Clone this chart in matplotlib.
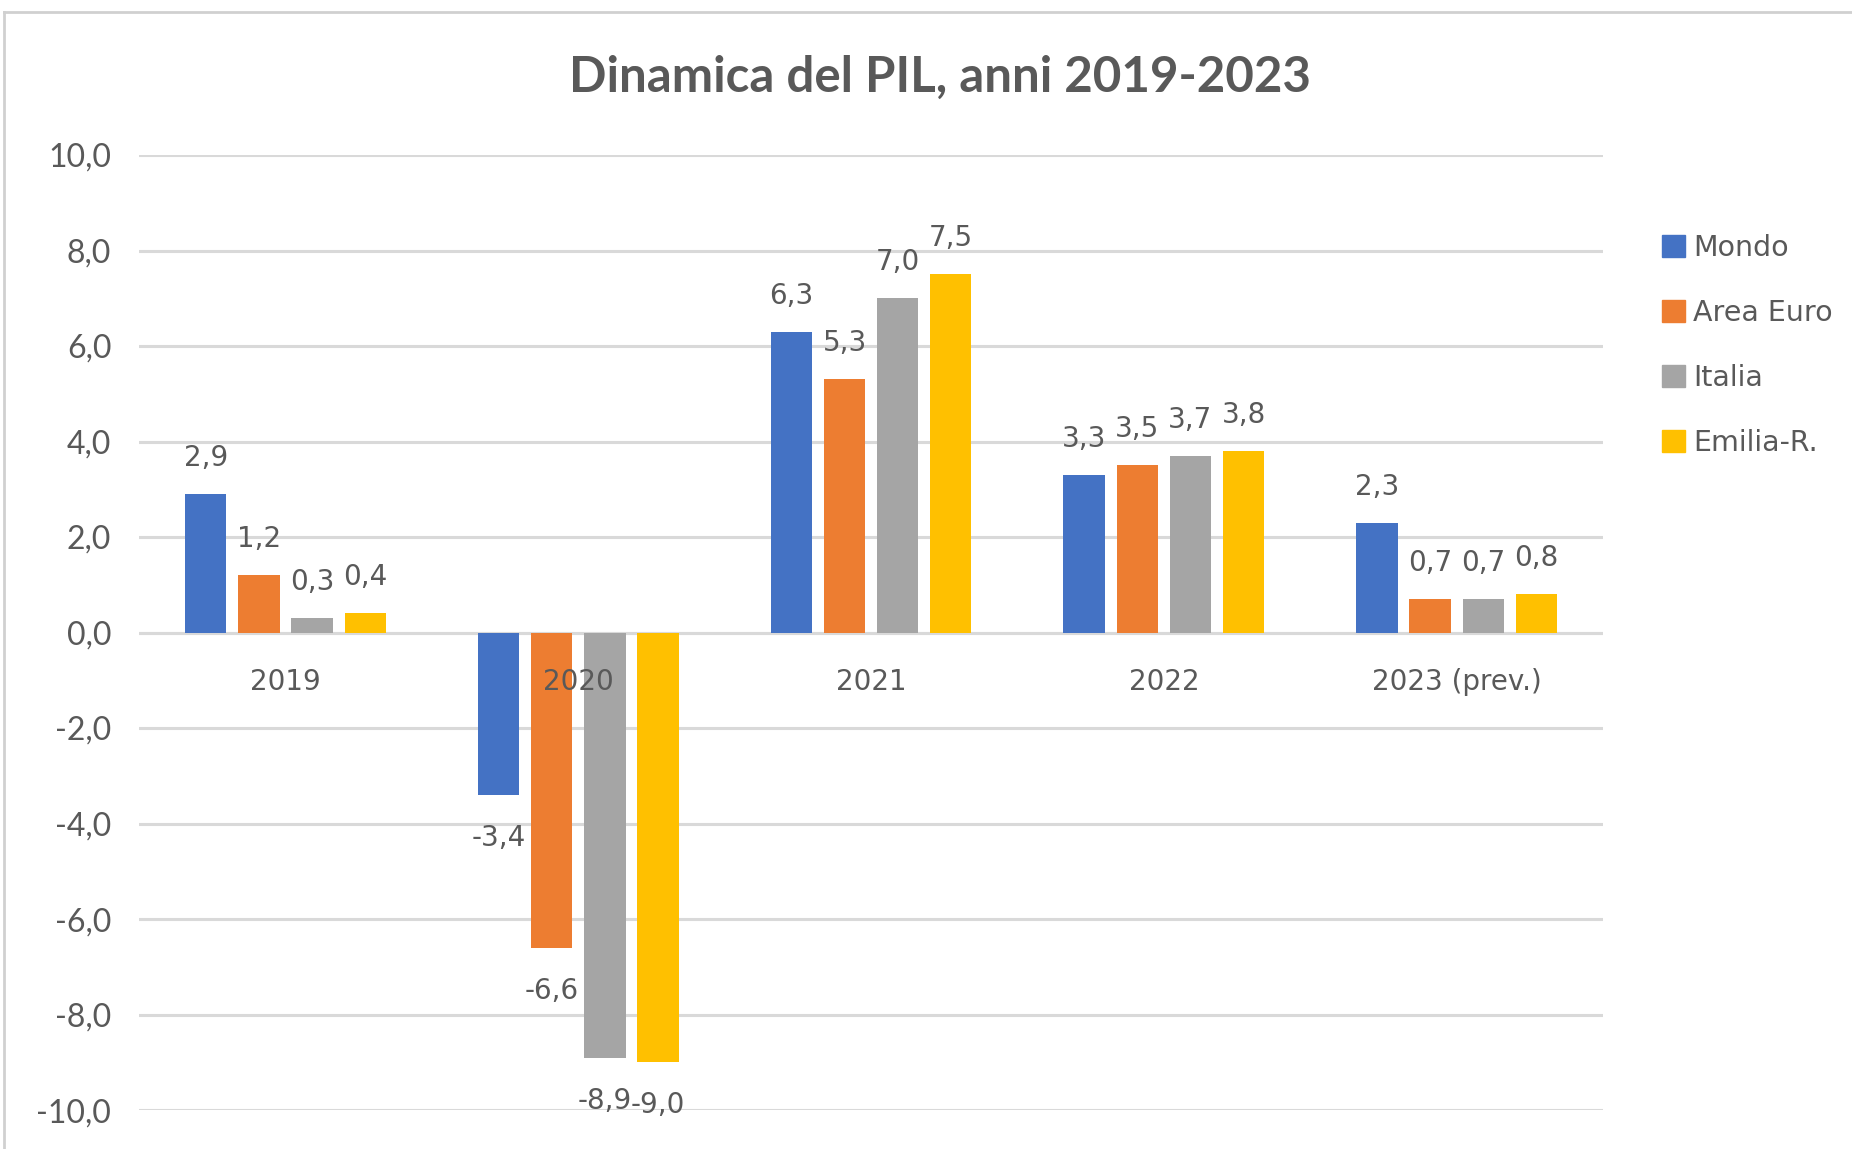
import matplotlib
matplotlib.use("Agg")
import matplotlib.pyplot as plt
from matplotlib import font_manager as fm
from matplotlib.lines import Line2D
import numpy as np

categories = ["2019", "2020", "2021", "2022", "2023 (prev.)"]
series_names = ["Mondo", "Area Euro", "Italia", "Emilia-R."]
mondo = [2.9, -3.4, 6.3, 3.3, 2.3]
area_euro = [1.2, -6.6, 5.3, 3.5, 0.7]
italia = [0.3, -8.9, 7.0, 3.7, 0.7]
emilia = [0.4, -9.0, 7.5, 3.8, 0.8]
yticks = [-10, -8, -6, -4, -2, 0, 2, 4, 6, 8, 10]
colors = ["#4472C4", "#ED7D31", "#A5A5A5", "#FFC000"]

names = {f.name for f in fm.fontManager.ttflist}
narrow = "Lato" if "Lato" in names else "DejaVu Sans"
TXT = "#595959"

fig = plt.figure(figsize=(18.52, 11.49), dpi=100)
ax = fig.add_axes([0.0751, 0.0339, 0.8656 - 0.0751, 0.8651 - 0.0339])

x = np.arange(len(categories))
step = 0.1816
width = 0.141
data = [mondo, area_euro, italia, emilia]
for i, (vals, name, c) in enumerate(zip(data, series_names, colors)):
    pos = x + (i - 1.5) * step
    ax.bar(pos, vals, width=width, color=c, label=name, zorder=3)
    for px, v in zip(pos, vals):
        lbl = f"{v:.1f}".replace(".", ",")
        off = 36 if v >= 0 else -43
        ax.annotate(lbl, (px, v), xytext=(0, off), textcoords="offset pixels",
                    ha="center", va="center", fontsize=20, color=TXT,
                    family="DejaVu Sans", zorder=4)

ax.set_xlim(-0.5, len(categories) - 0.5)
ax.set_ylim(-10, 10)
ax.set_yticks(yticks)
ax.set_yticklabels([f"{t:.1f}".replace(".", ",") for t in yticks],
                   family=narrow, fontsize=23, color=TXT)
ax.tick_params(axis="y", length=0, pad=20)
ax.set_xticks([])
for xi, cat in zip(x, categories):
    ax.annotate(cat, (xi, 0), xytext=(0, -49), textcoords="offset pixels",
                ha="center", va="center", fontsize=20, color=TXT,
                family="DejaVu Sans", zorder=5)
ax.grid(axis="y", color="#D9D9D9", lw=2.2, zorder=0)
ax.axhline(0, color="#D9D9D9", lw=2.2, zorder=2)
for s in ax.spines.values():
    s.set_visible(False)

fig.text(0.5076, 1 - 77 / 1149, "Dinamica del PIL, anni 2019-2023", ha="center",
         va="center", fontsize=35.5, fontweight="bold", color=TXT, family=narrow)

handles = [plt.Rectangle((0, 0), 1, 1, color=c) for c in colors]
leg = fig.legend(handles, series_names, loc="upper left",
                 bbox_to_anchor=(1662 / 1852, 1 - 234 / 1149), frameon=False,
                 fontsize=20.5, labelcolor=TXT, handlelength=0.8, handleheight=0.8,
                 handletextpad=0.3, labelspacing=1.3, borderaxespad=0,
                 borderpad=0)

# chart frame (top and left edges visible)
fig.add_artist(Line2D([4 / 1852, 1.0], [1 - 12 / 1149] * 2, color="#D0D0D0", lw=2,
                      transform=fig.transFigure))
fig.add_artist(Line2D([4 / 1852] * 2, [0, 1 - 12 / 1149], color="#D0D0D0", lw=2,
                      transform=fig.transFigure))

fig.savefig("out.png", dpi=100, facecolor="white")
